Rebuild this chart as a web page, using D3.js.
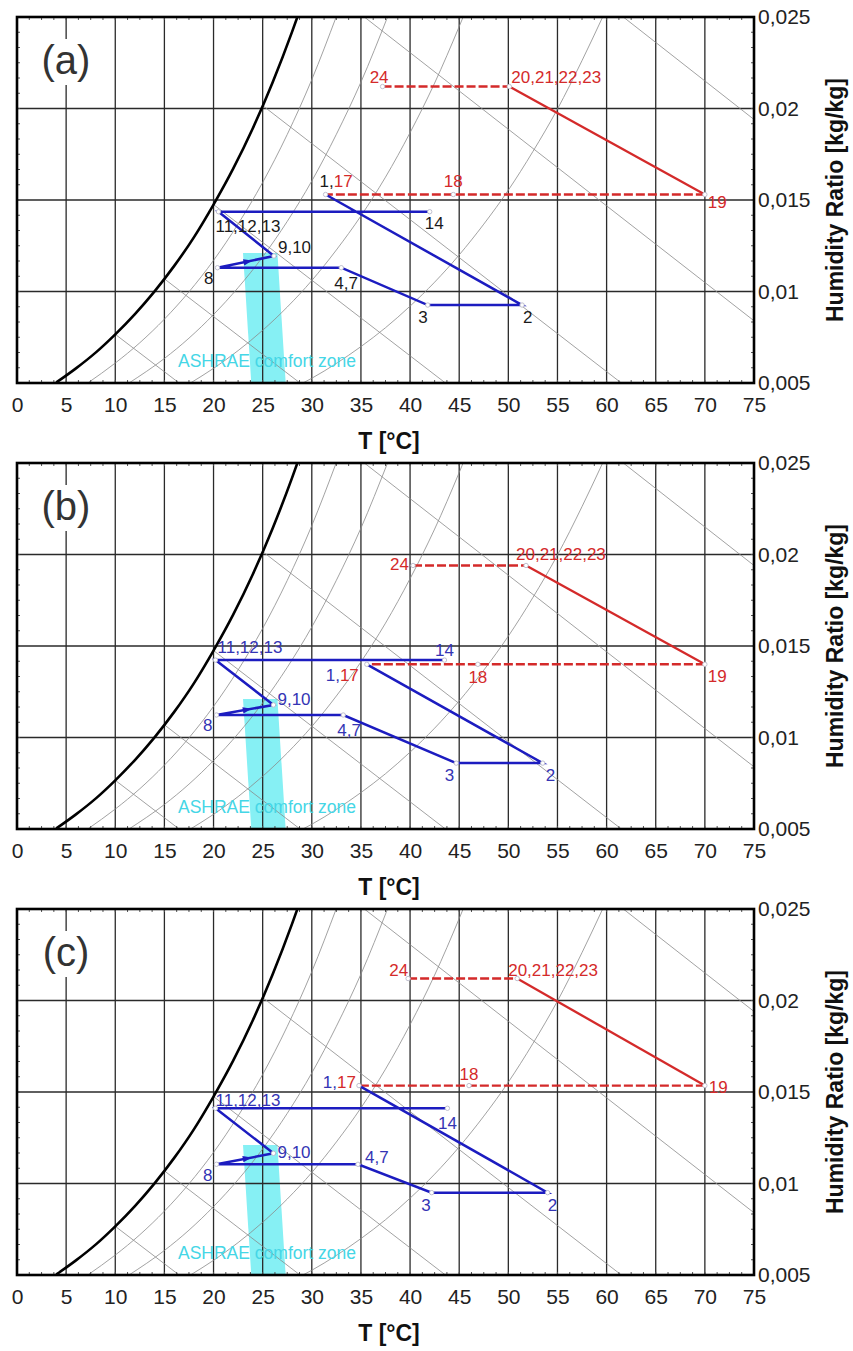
<!DOCTYPE html>
<html>
<head>
<meta charset="utf-8">
<script src="https://cdn.jsdelivr.net/npm/d3@7"></script>
<style>
  body { margin: 0; background: #fff; }
  svg { display: block; }
  text { font-family: "Liberation Sans", Arial, sans-serif; }
</style>
</head>
<body>
<svg id="chart" width="853" height="1351"></svg>
<script>
// ---- axes ----
const tempTicks = [0, 5, 10, 15, 20, 25, 30, 35, 40, 45, 50, 55, 60, 65, 70, 75];
const ratioTicks = [0.005, 0.01, 0.015, 0.02, 0.025];
const ratioTickLabels = ["0,005", "0,01", "0,015", "0,02", "0,025"];

// ---- psychrometric background ----
// saturation curve (100 % RH)
const satTemp  = [4.0, 6, 8, 10, 12, 14, 16, 18, 20, 22, 24, 26, 28, 28.6];
const satRatio = [0.00503, 0.0058, 0.00666, 0.00766, 0.00877, 0.01001, 0.0114, 0.01296, 0.01475, 0.01671, 0.01892, 0.02141, 0.0242, 0.0251];
// constant relative humidity curves
const rh80Temp  = [7.2, 10, 12.5, 15, 17.5, 20, 22.5, 25, 27.5, 30, 32.5];
const rh80Ratio = [0.005, 0.00609, 0.0072, 0.00849, 0.00998, 0.0117, 0.01369, 0.01596, 0.01858, 0.02158, 0.02503];
const rh60Temp  = [11.4, 15, 17.5, 20, 22.5, 25, 27.5, 30, 32.5, 35, 37.7];
const rh60Ratio = [0.005, 0.00634, 0.00745, 0.00874, 0.01021, 0.01189, 0.01383, 0.01604, 0.01859, 0.02144, 0.02499];
const rh40Temp  = [17.65, 20, 22.5, 25, 27.5, 30, 32.5, 35, 37.5, 40, 42.5, 45, 45.4];
const rh40Ratio = [0.005, 0.0058, 0.00677, 0.00788, 0.00915, 0.0106, 0.01227, 0.01413, 0.01625, 0.01868, 0.02139, 0.02448, 0.025];
const rh20Temp  = [29.1, 30, 32.5, 35, 37.5, 40, 42.5, 45, 47.5, 50, 52.5, 55, 57.5, 59.6];
const rh20Ratio = [0.005, 0.00526, 0.00607, 0.00699, 0.00802, 0.0092, 0.01051, 0.012, 0.01368, 0.01554, 0.01765, 0.01997, 0.02262, 0.025];
// constant wet-bulb lines (start / end)
const wbStartTemp  = [10, 15, 20, 25, 35.35, 61.7];
const wbStartRatio = [0.00766, 0.01069, 0.01475, 0.02016, 0.025, 0.025];
const wbEndTemp    = [16.5, 28.8, 43.6, 61.5, 75, 75];
const wbEndRatio   = [0.005, 0.005, 0.005, 0.005, 0.0084, 0.0194];
// ASHRAE comfort zone outline
const comfortTemp  = [23.0, 26.5, 27.4, 23.9];
const comfortRatio = [0.0121, 0.0121, 0.0045, 0.0045];

// ---- process state points ----
const stateNames = ["1,17", "2", "3", "4,7", "8", "9,10", "11,12,13", "14", "18", "19", "20,21,22,23", "24"];
const tempA  = [31.4, 51.4, 41.8, 33.0, 20.4, 26.15, 20.5, 42.0, 44.4, 70.0, 50.1, 37.2];
const ratioA = [0.0153, 0.00926, 0.00926, 0.0113, 0.0113, 0.01194, 0.01436, 0.01436, 0.0153, 0.0153, 0.0212, 0.0212];
const tempB  = [35.6, 53.5, 44.7, 33.2, 20.3, 26.1, 20.2, 43.5, 46.9, 70.0, 51.8, 40.3];
const ratioB = [0.0140, 0.0086, 0.0086, 0.01123, 0.01123, 0.01178, 0.01423, 0.01423, 0.0140, 0.0140, 0.0194, 0.0194];
const tempC  = [34.8, 54.0, 42.2, 34.7, 20.3, 26.1, 20.2, 43.8, 46.0, 70.0, 50.9, 39.8];
const ratioC = [0.01535, 0.0095, 0.0095, 0.01105, 0.01105, 0.01165, 0.01411, 0.01411, 0.01535, 0.01535, 0.0212, 0.0212];

// routes through the states
const blueRoute = ["1,17", "2", "3", "4,7", "8", "9,10", "11,12,13", "14"];
const redDashedA = ["24", "20,21,22,23"];
const redSolid = ["20,21,22,23", "19"];
const redDashedB = ["19", "18", "1,17"];

// ---- styling / layout ----
const left = 17, plotW = 737, plotH = 366;
const panelTops = [17, 463, 909];
const BLUE = "#1c1cc0", RED = "#d42a2a", CYAN = "#86f0f4";

// label placement: [dx, dy, anchor]
const offsetsA = {
  "1,17": [-6, -8, "start"], "2": [1, 18, "start"], "3": [0, 18, "end"], "4,7": [-7, 21, "start"],
  "8": [-4, 16, "end"], "9,10": [4, -3, "start"], "11,12,13": [-3, 20, "start"], "14": [-5, 17, "start"],
  "18": [0, -8, "middle"], "19": [3, 13, "start"], "20,21,22,23": [2, -4, "start"], "24": [6, -4, "end"]
};
const offsetsB = {
  "1,17": [-8, 17, "end"], "2": [3, 18, "start"], "3": [-2, 18, "end"], "4,7": [-6, 21, "start"],
  "8": [-4, 16, "end"], "9,10": [4, 0, "start"], "11,12,13": [2, -7, "start"], "14": [0, -4, "middle"],
  "18": [0, 19, "middle"], "19": [3, 18, "start"], "20,21,22,23": [-10, -5, "start"], "24": [-4, 5, "end"]
};
const offsetsC = {
  "1,17": [-3, 2, "end"], "2": [0, 18, "start"], "3": [-1, 18, "end"], "4,7": [7, -1, "start"],
  "8": [-4, 17, "end"], "9,10": [4, 5, "start"], "11,12,13": [0, -2, "start"], "14": [0, 21, "middle"],
  "18": [0, -6, "middle"], "19": [4, 7, "start"], "20,21,22,23": [-9, -3, "start"], "24": [0, -3, "end"]
};

const panels = [
  { tag: "(a)", temp: tempA, ratio: ratioA, offsets: offsetsA, textColor: "#1a1a1a" },
  { tag: "(b)", temp: tempB, ratio: ratioB, offsets: offsetsB, textColor: "#3434b4" },
  { tag: "(c)", temp: tempC, ratio: ratioC, offsets: offsetsC, textColor: "#3434b4" }
];

const svg = d3.select("#chart");
const x = d3.scaleLinear().domain([0, 75]).range([0, plotW]);
const y = d3.scaleLinear().domain([0.005, 0.025]).range([plotH, 0]);

const curveLine = d3.line().x(d => x(d[0])).y(d => y(d[1])).curve(d3.curveMonotoneX);
const straight = d3.line().x(d => x(d[0])).y(d => y(d[1]));
const zip = (a, b) => a.map((v, i) => [v, b[i]]);

svg.append("defs").append("clipPath").attr("id", "plotClip")
  .append("rect").attr("width", plotW).attr("height", plotH);

panels.forEach((p, pi) => {
  const g = svg.append("g").attr("transform", `translate(${left},${panelTops[pi]})`);
  const plot = g.append("g").attr("clip-path", "url(#plotClip)");

  // comfort zone
  plot.append("path")
    .attr("d", straight(zip(comfortTemp, comfortRatio)) + "Z")
    .attr("fill", CYAN);

  // grid
  plot.append("g").selectAll("line").data(tempTicks.slice(1, -1)).join("line")
    .attr("x1", d => x(d)).attr("x2", d => x(d)).attr("y1", 0).attr("y2", plotH)
    .attr("stroke", "#2a2a2a").attr("stroke-width", 1.3);
  plot.append("g").selectAll("line").data(ratioTicks.slice(1, -1)).join("line")
    .attr("y1", d => y(d)).attr("y2", d => y(d)).attr("x1", 0).attr("x2", plotW)
    .attr("stroke", "#2a2a2a").attr("stroke-width", 1.3);

  // panel tag with white backing
  plot.append("rect").attr("x", 26).attr("y", 22).attr("width", 48).attr("height", 46).attr("fill", "#fff");
  g.append("text").attr("x", 49).attr("y", 57).attr("text-anchor", "middle")
    .attr("font-size", 40).attr("fill", "#333").text(p.tag);

  // guide curves
  const guides = plot.append("g").attr("fill", "none").attr("stroke", "#8a8a8a").attr("stroke-width", 0.8);
  [[rh80Temp, rh80Ratio], [rh60Temp, rh60Ratio], [rh40Temp, rh40Ratio], [rh20Temp, rh20Ratio]]
    .forEach(([t, w]) => guides.append("path").attr("d", curveLine(zip(t, w))));
  wbStartTemp.forEach((t, i) => {
    guides.append("path").attr("d", straight([[t, wbStartRatio[i]], [wbEndTemp[i], wbEndRatio[i]]]));
  });

  // saturation curve
  plot.append("path").attr("d", curveLine(zip(satTemp, satRatio)))
    .attr("fill", "none").attr("stroke", "#000").attr("stroke-width", 2.6);

  // comfort zone caption
  g.append("text").attr("x", 161).attr("y", plotH - 16).attr("font-size", 17.5)
    .attr("fill", "#45d6e6").text("ASHRAE comfort zone");

  // process lines
  const pt = name => { const i = stateNames.indexOf(name); return [p.temp[i], p.ratio[i]]; };
  const route = names => names.map(pt);
  plot.append("path").attr("d", straight(route(redDashedA)))
    .attr("fill", "none").attr("stroke", RED).attr("stroke-width", 2.4).attr("stroke-dasharray", "9,3");
  plot.append("path").attr("d", straight(route(redDashedB)))
    .attr("fill", "none").attr("stroke", RED).attr("stroke-width", 2.4).attr("stroke-dasharray", "9,3");
  plot.append("path").attr("d", straight(route(redSolid)))
    .attr("fill", "none").attr("stroke", RED).attr("stroke-width", 2.3);
  plot.append("path").attr("d", straight(route(blueRoute)))
    .attr("fill", "none").attr("stroke", BLUE).attr("stroke-width", 2.5).attr("stroke-linejoin", "miter");

  // direction arrow on the 8 -> 9,10 branch
  const a = pt("8"), b = pt("9,10");
  const ax = x(a[0]) + (x(b[0]) - x(a[0])) * 0.55, ay = y(a[1]) + (y(b[1]) - y(a[1])) * 0.55;
  const ang = Math.atan2(y(b[1]) - y(a[1]), x(b[0]) - x(a[0])) * 180 / Math.PI;
  plot.append("path").attr("d", "M4,0 L-5,-3.2 L-5,3.2 Z").attr("fill", BLUE)
    .attr("transform", `translate(${ax},${ay}) rotate(${ang})`);

  // state markers
  g.append("g").selectAll("circle").data(stateNames).join("circle")
    .attr("cx", d => x(pt(d)[0])).attr("cy", d => y(pt(d)[1])).attr("r", 2.2)
    .attr("fill", "#fff").attr("stroke", "#b9b9c9").attr("stroke-width", 0.9);

  // state labels
  const redNames = ["18", "19", "20,21,22,23", "24"];
  stateNames.forEach(name => {
    const [dx, dy, anchor] = p.offsets[name];
    const q = pt(name);
    const t = g.append("text").attr("x", x(q[0]) + dx).attr("y", y(q[1]) + dy)
      .attr("text-anchor", anchor).attr("font-size", 17);
    if (name === "1,17") {
      t.append("tspan").attr("fill", p.textColor).text("1,");
      t.append("tspan").attr("fill", RED).text("17");
    } else {
      t.attr("fill", redNames.includes(name) ? RED : p.textColor).text(name);
    }
  });

  // minor ticks along the frame
  const minorT = d3.range(0, 75.01, 1.25);
  const minorW = d3.range(0.005, 0.02501, 0.005 / 6);
  const ticks = g.append("g").attr("stroke", "#555").attr("stroke-width", 1);
  minorT.forEach(t => {
    ticks.append("line").attr("x1", x(t)).attr("x2", x(t)).attr("y1", 0).attr("y2", 3);
    ticks.append("line").attr("x1", x(t)).attr("x2", x(t)).attr("y1", plotH).attr("y2", plotH - 3);
  });
  minorW.forEach(w => {
    ticks.append("line").attr("y1", y(w)).attr("y2", y(w)).attr("x1", 0).attr("x2", 3);
    ticks.append("line").attr("y1", y(w)).attr("y2", y(w)).attr("x1", plotW).attr("x2", plotW - 3);
  });

  // frame
  g.append("rect").attr("width", plotW).attr("height", plotH)
    .attr("fill", "none").attr("stroke", "#000").attr("stroke-width", 2.6);

  // axes
  const xAxis = g.append("g").attr("transform", `translate(0,${plotH})`)
    .call(d3.axisBottom(x).tickValues(tempTicks).tickSize(0).tickPadding(14));
  xAxis.select(".domain").remove();
  xAxis.selectAll("text").attr("font-size", 21).attr("fill", "#222")
    .style("font-family", '"Liberation Sans", Arial, sans-serif');

  const yAxis = g.append("g").attr("transform", `translate(${plotW},0)`)
    .call(d3.axisRight(y).tickValues(ratioTicks).tickFormat((d, i) => ratioTickLabels[i]).tickSize(0).tickPadding(4));
  yAxis.select(".domain").remove();
  yAxis.selectAll("text").attr("font-size", 21).attr("fill", "#222")
    .style("font-family", '"Liberation Sans", Arial, sans-serif');

  // axis titles
  g.append("text").attr("x", 372).attr("y", plotH + 66).attr("text-anchor", "middle")
    .attr("font-size", 23).attr("font-weight", "bold").attr("fill", "#111").text("T [°C]");
  g.append("text").attr("transform", `translate(${plotW + 89},${plotH / 2}) rotate(-90)`)
    .attr("text-anchor", "middle").attr("font-size", 23).attr("font-weight", "bold")
    .attr("fill", "#111").text("Humidity Ratio [kg/kg]");
});
</script>
</body>
</html>
